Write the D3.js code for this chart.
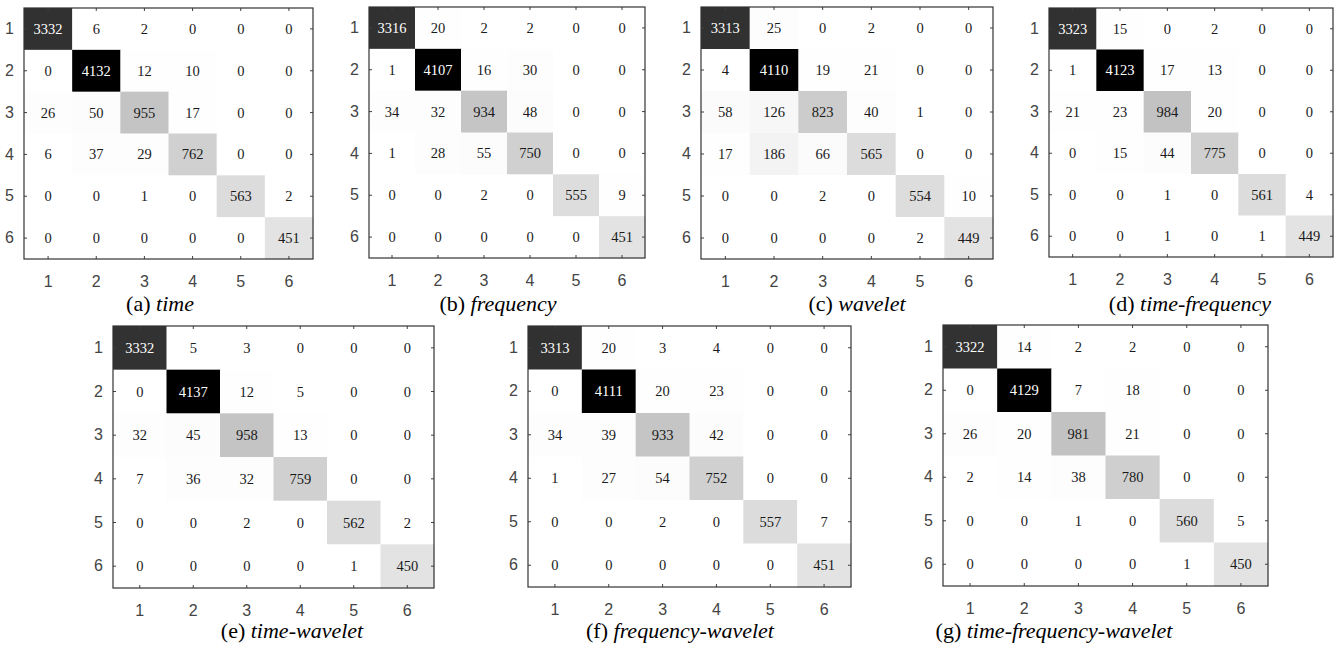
<!DOCTYPE html>
<html>
<head>
<meta charset="utf-8">
<script src="https://cdn.jsdelivr.net/npm/d3@7"></script>
<style>
  body { margin: 0; background: #fff; }
  svg { display: block; }
</style>
</head>
<body>
<div id="chart"></div>
<script>

// class labels (rows = true, cols = predicted)
var classes = [1, 2, 3, 4, 5, 6];

var cmTime = [
  [3332, 6, 2, 0, 0, 0],
  [0, 4132, 12, 10, 0, 0],
  [26, 50, 955, 17, 0, 0],
  [6, 37, 29, 762, 0, 0],
  [0, 0, 1, 0, 563, 2],
  [0, 0, 0, 0, 0, 451]
];
var cmFrequency = [
  [3316, 20, 2, 2, 0, 0],
  [1, 4107, 16, 30, 0, 0],
  [34, 32, 934, 48, 0, 0],
  [1, 28, 55, 750, 0, 0],
  [0, 0, 2, 0, 555, 9],
  [0, 0, 0, 0, 0, 451]
];
var cmWavelet = [
  [3313, 25, 0, 2, 0, 0],
  [4, 4110, 19, 21, 0, 0],
  [58, 126, 823, 40, 1, 0],
  [17, 186, 66, 565, 0, 0],
  [0, 0, 2, 0, 554, 10],
  [0, 0, 0, 0, 2, 449]
];
var cmTimeFrequency = [
  [3323, 15, 0, 2, 0, 0],
  [1, 4123, 17, 13, 0, 0],
  [21, 23, 984, 20, 0, 0],
  [0, 15, 44, 775, 0, 0],
  [0, 0, 1, 0, 561, 4],
  [0, 0, 1, 0, 1, 449]
];
var cmTimeWavelet = [
  [3332, 5, 3, 0, 0, 0],
  [0, 4137, 12, 5, 0, 0],
  [32, 45, 958, 13, 0, 0],
  [7, 36, 32, 759, 0, 0],
  [0, 0, 2, 0, 562, 2],
  [0, 0, 0, 0, 1, 450]
];
var cmFrequencyWavelet = [
  [3313, 20, 3, 4, 0, 0],
  [0, 4111, 20, 23, 0, 0],
  [34, 39, 933, 42, 0, 0],
  [1, 27, 54, 752, 0, 0],
  [0, 0, 2, 0, 557, 7],
  [0, 0, 0, 0, 0, 451]
];
var cmTimeFrequencyWavelet = [
  [3322, 14, 2, 2, 0, 0],
  [0, 4129, 7, 18, 0, 0],
  [26, 20, 981, 21, 0, 0],
  [2, 14, 38, 780, 0, 0],
  [0, 0, 1, 0, 560, 5],
  [0, 0, 0, 0, 1, 450]
];

var panelLetters = ["a", "b", "c", "d", "e", "f", "g"];
var panelNames = ["time", "frequency", "wavelet", "time-frequency",
  "time-wavelet", "frequency-wavelet", "time-frequency-wavelet"];
var matrices = [cmTime, cmFrequency, cmWavelet, cmTimeFrequency,
  cmTimeWavelet, cmFrequencyWavelet, cmTimeFrequencyWavelet];

// where each axes box sits on the page, plus caption centre
var boxes = [
  {x0: 24,   x1: 313,  y0: 8,   y1: 259, capX: 160,  capY: 311},
  {x0: 369,  x1: 645,  y0: 7,   y1: 258, capX: 498,  capY: 311},
  {x0: 701,  x1: 993,  y0: 7,   y1: 259, capX: 857,  capY: 311},
  {x0: 1049, x1: 1333, y0: 8,   y1: 257, capX: 1190, capY: 311},
  {x0: 113,  x1: 434,  y0: 326, y1: 588, capX: 292,  capY: 638},
  {x0: 528,  x1: 851,  y0: 326, y1: 587, capX: 680,  capY: 638},
  {x0: 943,  x1: 1268, y0: 325, y1: 586, capX: 1054, capY: 638}
];

var svgWidth = 1342, svgHeight = 650;

var svg = d3.select("#chart")
  .append("svg")
  .attr("width", svgWidth)
  .attr("height", svgHeight);

matrices.forEach(function(m, i) {
  var b = boxes[i];
  var g = svg.append("g");

  var x = d3.scaleBand().domain(classes).range([b.x0, b.x1]);
  var y = d3.scaleBand().domain(classes).range([b.y0, b.y1]);

  var maxVal = d3.max(m, r => d3.max(r));
  var color = d3.scaleLinear().domain([0, maxVal]).range(["#ffffff", "#000000"]);

  var cells = [];
  m.forEach(function(row, r) {
    row.forEach(function(v, c) {
      cells.push({row: classes[r], col: classes[c], value: v});
    });
  });

  g.selectAll("rect.cell")
    .data(cells)
    .enter()
    .append("rect")
    .attr("class", "cell")
    .attr("x", d => x(d.col))
    .attr("y", d => y(d.row))
    .attr("width", x.bandwidth() + 0.5)
    .attr("height", y.bandwidth() + 0.5)
    .attr("fill", d => color(d.value));

  g.selectAll("text.val")
    .data(cells)
    .enter()
    .append("text")
    .attr("class", "val")
    .attr("x", d => x(d.col) + x.bandwidth() / 2)
    .attr("y", d => y(d.row) + y.bandwidth() / 2)
    .attr("dy", "0.35em")
    .attr("text-anchor", "middle")
    .attr("font-family", "'Liberation Serif', 'Times New Roman', serif")
    .attr("font-size", 14.5)
    .attr("fill", d => d.value > maxVal * 0.5 ? "#ffffff" : "#1a1a1a")
    .text(d => d.value);

  // matlab-style axes: ticks inside on all four sides
  var tickLen = 3;
  var bottomAxis = d3.axisBottom(x).tickSizeInner(-tickLen).tickSizeOuter(0).tickPadding(17);
  var leftAxis = d3.axisLeft(y).tickSizeInner(-tickLen).tickSizeOuter(0).tickPadding(10);
  var topAxis = d3.axisTop(x).tickSizeInner(-tickLen).tickSizeOuter(0).tickFormat("");
  var rightAxis = d3.axisRight(y).tickSizeInner(-tickLen).tickSizeOuter(0).tickFormat("");

  var axes = [
    g.append("g").attr("transform", `translate(0, ${b.y1})`).call(bottomAxis),
    g.append("g").attr("transform", `translate(${b.x0}, 0)`).call(leftAxis),
    g.append("g").attr("transform", `translate(0, ${b.y0})`).call(topAxis),
    g.append("g").attr("transform", `translate(${b.x1}, 0)`).call(rightAxis)
  ];
  axes.forEach(function(a) {
    a.select(".domain").remove();
    a.selectAll("line").attr("stroke", "#404040");
    a.selectAll("text")
      .attr("font-family", "'Liberation Sans', Arial, sans-serif")
      .attr("font-size", 16)
      .attr("fill", "#444");
  });

  g.append("rect")
    .attr("x", b.x0)
    .attr("y", b.y0)
    .attr("width", b.x1 - b.x0)
    .attr("height", b.y1 - b.y0)
    .attr("fill", "none")
    .attr("stroke", "#333")
    .attr("stroke-width", 1.2);

  var cap = g.append("text")
    .attr("x", b.capX)
    .attr("y", b.capY)
    .attr("text-anchor", "middle")
    .attr("font-family", "'Liberation Serif', 'Times New Roman', serif")
    .attr("font-size", 22)
    .attr("fill", "#000");
  cap.append("tspan").text("(" + panelLetters[i] + ") ");
  cap.append("tspan").attr("font-style", "italic").text(panelNames[i]);
});

</script>
</body>
</html>
